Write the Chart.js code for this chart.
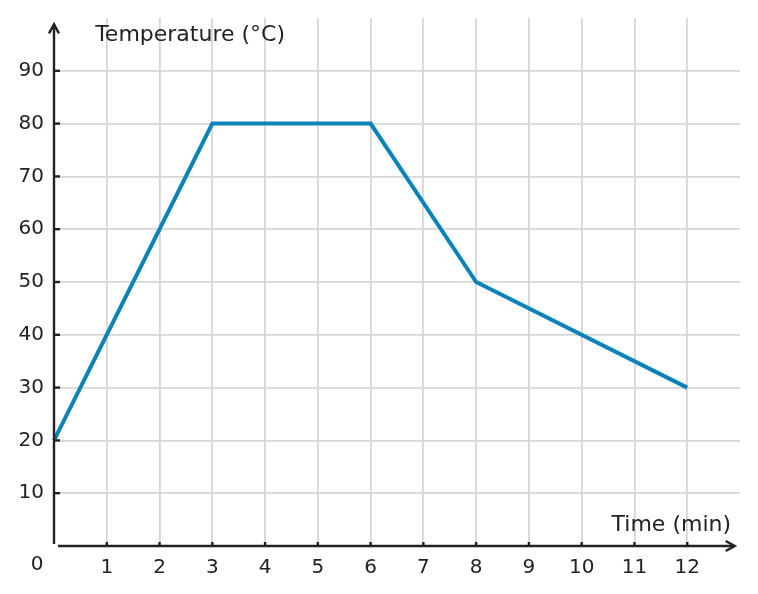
<!DOCTYPE html>
<html>
<head>
<meta charset="utf-8">
<script src="https://cdn.jsdelivr.net/npm/chart.js@4"></script>
<style>
html,body{margin:0;padding:0;background:#fff;}
#wrap{width:758px;height:594px;position:relative;}
</style>
</head>
<body>
<div id="wrap"><canvas id="c"></canvas></div>
<script>
const times = [0, 3, 6, 8, 12];
const temps = [20, 80, 80, 50, 30];
const xTicks = [1,2,3,4,5,6,7,8,9,10,11,12];
const yTicks = [10,20,30,40,50,60,70,80,90];
const xTitle = 'Time (min)';
const yTitle = 'Temperature (°C)';
const originLabel = '0';

const FONT = '"DejaVu Sans", sans-serif';
const FSIZE = 20;
const TSIZE = 22;
const INK = '#222222';
const GRID = '#d6d6d6';
const LINE = '#0a83b8';

const axesPlugin = {
  id: 'axesPlugin',
  afterDraw(chart) {
    const ctx = chart.ctx;
    const xs = chart.scales.x, ys = chart.scales.y;
    const x0 = xs.getPixelForValue(0), y0 = ys.getPixelForValue(0);
    ctx.save();
    ctx.strokeStyle = INK;
    ctx.lineWidth = 2.4;
    ctx.lineCap = 'butt';
    const yTop = ys.getPixelForValue(98.8);
    ctx.beginPath();
    ctx.moveTo(x0, y0 - 2);
    ctx.lineTo(x0, yTop);
    ctx.stroke();
    const xEnd = xs.getPixelForValue(12.9);
    ctx.beginPath();
    ctx.moveTo(x0 + 4, y0);
    ctx.lineTo(xEnd, y0);
    ctx.stroke();
    ctx.lineJoin = 'miter';
    ctx.beginPath();
    ctx.moveTo(x0 - 5, yTop + 9);
    ctx.lineTo(x0, yTop);
    ctx.lineTo(x0 + 5, yTop + 9);
    ctx.stroke();
    ctx.beginPath();
    ctx.moveTo(xEnd - 9, y0 - 5);
    ctx.lineTo(xEnd, y0);
    ctx.lineTo(xEnd - 9, y0 + 5);
    ctx.stroke();
    yTicks.forEach(v => {
      const p = ys.getPixelForValue(v);
      ctx.beginPath(); ctx.moveTo(x0, p); ctx.lineTo(x0 + 6, p); ctx.stroke();
    });
    xTicks.forEach(v => {
      const p = xs.getPixelForValue(v);
      ctx.beginPath(); ctx.moveTo(p, y0); ctx.lineTo(p, y0 - 4); ctx.stroke();
    });
    ctx.fillStyle = INK;
    ctx.textBaseline = 'middle';
    ctx.font = TSIZE + 'px ' + FONT;
    ctx.textAlign = 'left';
    ctx.fillText(yTitle, xs.getPixelForValue(0.78), ys.getPixelForValue(96.8));
    ctx.textAlign = 'right';
    ctx.fillText(xTitle, xs.getPixelForValue(12.83), ys.getPixelForValue(4.0));
    ctx.font = FSIZE + 'px ' + FONT;
    ctx.textAlign = 'center';
    ctx.fillText(originLabel, x0 - 17, y0 + 19);
    ctx.restore();
  }
};

new Chart(document.getElementById('c'), {
  type: 'scatter',
  data: {
    datasets: [{
      data: times.map((t, i) => ({x: t, y: temps[i]})),
      showLine: true,
      borderColor: LINE,
      backgroundColor: LINE,
      borderWidth: 4,
      pointRadius: 0,
      tension: 0,
      clip: false
    }]
  },
  options: {
    responsive: true,
    maintainAspectRatio: false,
    animation: false,
    layout: {padding: {top: 18, right: 18, left: 0, bottom: 0}},
    plugins: {legend: {display: false}, tooltip: {enabled: false}},
    scales: {
      x: {
        type: 'linear', min: 0, max: 13,
        afterFit(s) { s.height = 48; s.paddingLeft = 0; s.paddingRight = 0; },
        afterBuildTicks(s) { s.ticks = [0].concat(xTicks, [13]).map(v => ({value: v})); },
        border: {display: false},
        grid: {
          drawTicks: false,
          lineWidth: 1.8,
          color: ctx => (ctx.tick && xTicks.includes(ctx.tick.value)) ? GRID : 'rgba(0,0,0,0)'
        },
        ticks: {
          padding: 10,
          color: INK,
          font: {family: FONT, size: FSIZE},
          maxRotation: 0,
          autoSkip: false,
          callback: v => xTicks.includes(v) ? String(v) : ''
        }
      },
      y: {
        type: 'linear', min: 0, max: 100,
        afterFit(s) { s.width = 54; s.paddingTop = 0; s.paddingBottom = 0; },
        afterBuildTicks(s) { s.ticks = [0].concat(yTicks, [100]).map(v => ({value: v})); },
        border: {display: false},
        grid: {
          drawTicks: false,
          lineWidth: 1.8,
          color: ctx => (ctx.tick && yTicks.includes(ctx.tick.value)) ? GRID : 'rgba(0,0,0,0)'
        },
        ticks: {
          padding: 10,
          color: INK,
          font: {family: FONT, size: FSIZE},
          autoSkip: false,
          callback: v => yTicks.includes(v) ? String(v) : ''
        }
      }
    }
  },
  plugins: [axesPlugin]
});
</script>
</body>
</html>
